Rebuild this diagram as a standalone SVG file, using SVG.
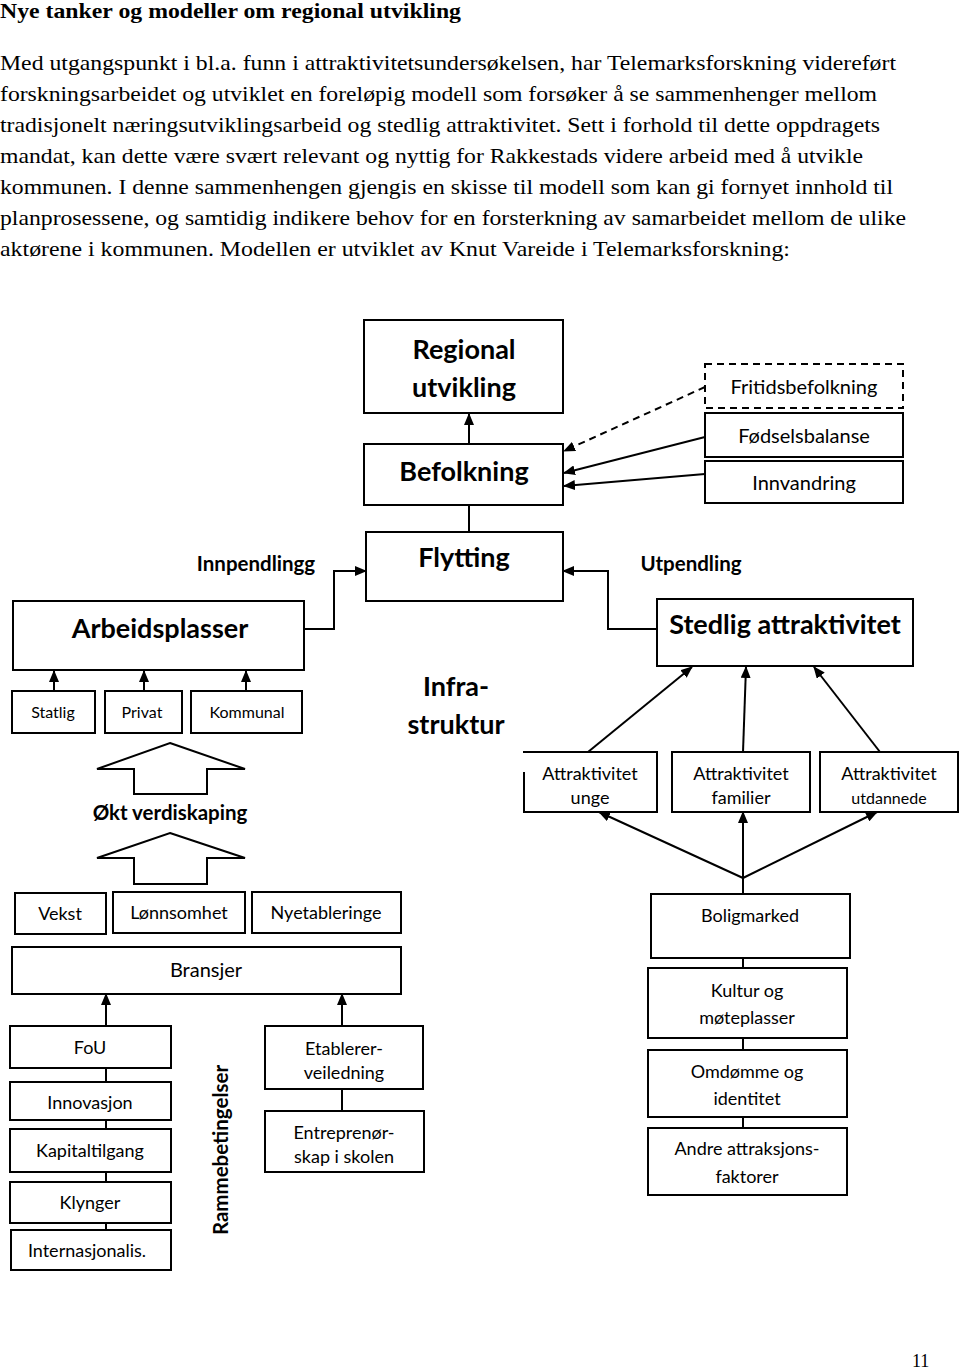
<svg xmlns="http://www.w3.org/2000/svg" width="960" height="1370" viewBox="0 0 960 1370">
<style>
.body{font-family:"Liberation Serif","Times New Roman",serif;font-size:22px;fill:#000}
.title{font-family:"Liberation Serif","Times New Roman",serif;font-size:21px;font-weight:bold;fill:#000}
.box{fill:#fff;stroke:#000;stroke-width:2}
.dbox{fill:#fff;stroke:#000;stroke-width:2;stroke-dasharray:7,5}
.t{font-family:Lato,"Open Sans",sans-serif;fill:#000;text-anchor:middle;dominant-baseline:central}
.big{font-size:27px;font-weight:bold}
.med{font-size:20.5px;font-weight:bold}
.s20{font-size:20px}
.s18{font-size:18px}
.s16{font-size:16px}
.c{fill:none;stroke:#000;stroke-width:2}
.blk{fill:#fff;stroke:#000;stroke-width:2;stroke-linejoin:miter}
</style>
<defs>
<marker id="ah" viewBox="0 0 12 10" refX="11" refY="5" markerWidth="6" markerHeight="5" orient="auto" markerUnits="strokeWidth">
<path d="M0,0 L12,5 L0,10 z" fill="#000"/>
</marker>
</defs>

<text class="title" x="0" y="18" textLength="461" lengthAdjust="spacingAndGlyphs">Nye tanker og modeller om regional utvikling</text>
<g id="paragraph">
<text class="body" x="0" y="70" textLength="896" lengthAdjust="spacingAndGlyphs">Med utgangspunkt i bl.a. funn i attraktivitetsundersøkelsen, har Telemarksforskning videreført</text>
<text class="body" x="0" y="101" textLength="877" lengthAdjust="spacingAndGlyphs">forskningsarbeidet og utviklet en foreløpig modell som forsøker å se sammenhenger mellom</text>
<text class="body" x="0" y="132" textLength="880" lengthAdjust="spacingAndGlyphs">tradisjonelt næringsutviklingsarbeid og stedlig attraktivitet. Sett i forhold til dette oppdragets</text>
<text class="body" x="0" y="163" textLength="863" lengthAdjust="spacingAndGlyphs">mandat, kan dette være svært relevant og nyttig for Rakkestads videre arbeid med å utvikle</text>
<text class="body" x="0" y="194" textLength="893" lengthAdjust="spacingAndGlyphs">kommunen. I denne sammenhengen gjengis en skisse til modell som kan gi fornyet innhold til</text>
<text class="body" x="0" y="225" textLength="906" lengthAdjust="spacingAndGlyphs">planprosessene, og samtidig indikere behov for en forsterkning av samarbeidet mellom de ulike</text>
<text class="body" x="0" y="256" textLength="790" lengthAdjust="spacingAndGlyphs">aktørene i kommunen. Modellen er utviklet av Knut Vareide i Telemarksforskning:</text>
</g>

<g id="connectors">
<line class="c" x1="469" y1="444" x2="469" y2="414" marker-end="url(#ah)"/>
<line class="c" x1="469" y1="505" x2="469" y2="532"/>
<line class="c" x1="705" y1="387" x2="564" y2="451" stroke-dasharray="7,5" marker-end="url(#ah)"/>
<line class="c" x1="705" y1="437" x2="564" y2="473" marker-end="url(#ah)"/>
<line class="c" x1="705" y1="474" x2="564" y2="486" marker-end="url(#ah)"/>
<polyline class="c" points="304,629 334,629 334,571 366,571" marker-end="url(#ah)"/>
<polyline class="c" points="656,629 608,629 608,571 563,571" marker-end="url(#ah)"/>
<line class="c" x1="54" y1="691" x2="54" y2="671" marker-end="url(#ah)"/>
<line class="c" x1="144" y1="691" x2="144" y2="671" marker-end="url(#ah)"/>
<line class="c" x1="246" y1="691" x2="246" y2="671" marker-end="url(#ah)"/>
<line class="c" x1="588" y1="752" x2="692" y2="667" marker-end="url(#ah)"/>
<line class="c" x1="743" y1="752" x2="746" y2="667" marker-end="url(#ah)"/>
<line class="c" x1="880" y1="752" x2="814" y2="667" marker-end="url(#ah)"/>
<line class="c" x1="743" y1="878" x2="599" y2="812" marker-end="url(#ah)"/>
<line class="c" x1="743" y1="878" x2="743" y2="812" marker-end="url(#ah)"/>
<line class="c" x1="743" y1="878" x2="877" y2="812" marker-end="url(#ah)"/>
<line class="c" x1="743" y1="877" x2="743" y2="894"/>
<line class="c" x1="743" y1="958" x2="743" y2="968"/>
<line class="c" x1="743" y1="1038" x2="743" y2="1050"/>
<line class="c" x1="743" y1="1117" x2="743" y2="1128"/>
<line class="c" x1="106" y1="1026" x2="106" y2="994" marker-end="url(#ah)"/>
<line class="c" x1="342" y1="1026" x2="342" y2="994" marker-end="url(#ah)"/>
<line class="c" x1="106" y1="1068" x2="106" y2="1082"/>
<line class="c" x1="106" y1="1120" x2="106" y2="1129"/>
<line class="c" x1="106" y1="1172" x2="106" y2="1182"/>
<line class="c" x1="106" y1="1223" x2="106" y2="1230"/>
<line class="c" x1="342" y1="1089" x2="342" y2="1111"/>
</g>

<g id="regional"><rect class="box" x="364" y="320" width="199" height="93"/>
<text class="t big" x="464" y="348">Regional</text><text class="t big" x="464" y="386">utvikling</text></g>
<g id="befolkning"><rect class="box" x="364" y="444" width="199" height="61"/>
<text class="t big" x="464" y="470">Befolkning</text></g>
<g id="fritid"><rect class="dbox" x="705" y="364" width="198" height="44"/>
<text class="t s20" x="804" y="386">Fritidsbefolkning</text></g>
<g id="fodsel"><rect class="box" x="705" y="413" width="198" height="44"/>
<text class="t s20" x="804" y="435">Fødselsbalanse</text></g>
<g id="innvandring"><rect class="box" x="705" y="461" width="198" height="42"/>
<text class="t s20" x="804" y="482">Innvandring</text></g>

<g id="flytting"><rect class="box" x="366" y="532" width="197" height="69"/>
<text class="t big" x="464" y="556">Flytting</text></g>
<g id="innpendling"><text class="t med" x="256" y="563">Innpendlingg</text></g>
<g id="utpendling"><text class="t med" x="691" y="563">Utpendling</text></g>

<g id="arbeidsplasser"><rect class="box" x="13" y="601" width="291" height="69"/>
<text class="t big" x="160" y="627">Arbeidsplasser</text></g>
<g id="stedlig"><rect class="box" x="657" y="599" width="256" height="67"/>
<text class="t big" x="785" y="623">Stedlig attraktivitet</text></g>
<g id="statlig"><rect class="box" x="12" y="691" width="83" height="42"/>
<text class="t s16" x="53" y="711">Statlig</text></g>
<g id="privat"><rect class="box" x="105" y="691" width="77" height="42"/>
<text class="t s16" x="142" y="711">Privat</text></g>
<g id="kommunal"><rect class="box" x="191" y="691" width="111" height="42"/>
<text class="t s16" x="247" y="711">Kommunal</text></g>
<g id="infrastruktur"><text class="t big" x="456" y="685">Infra-</text><text class="t big" x="456" y="723">struktur</text></g>

<g id="att-unge"><path class="box" d="M524,772 V812 H657 V752 H523"/>
<text class="t s18" x="590" y="773">Attraktivitet</text><text class="t s18" x="590" y="797">unge</text></g>
<g id="att-familier"><rect class="box" x="672" y="752" width="138" height="60"/>
<text class="t s18" x="741" y="773">Attraktivitet</text><text class="t s18" x="741" y="797">familier</text></g>
<g id="att-utdannede"><rect class="box" x="820" y="752" width="138" height="60"/>
<text class="t s18" x="889" y="773">Attraktivitet</text><text class="t s16" x="889" y="797">utdannede</text></g>

<g id="okt-verdiskaping">
<polygon class="blk" points="170,743 245,769 207,769 207,794 134,794 134,769 97,769"/>
<text class="t med" x="170" y="812">Økt verdiskaping</text>
<polygon class="blk" points="170,833 245,858 207,858 207,884 134,884 134,858 97,858"/>
</g>

<g id="vekst"><rect class="box" x="15" y="893" width="91" height="41"/>
<text class="t s18" x="60" y="913">Vekst</text></g>
<g id="lonnsomhet"><rect class="box" x="113" y="892" width="132" height="41"/>
<text class="t s18" x="179" y="912">Lønnsomhet</text></g>
<g id="nyetableringe"><rect class="box" x="252" y="892" width="149" height="41"/>
<text class="t s18" x="326" y="912">Nyetableringe</text></g>
<g id="bransjer"><rect class="box" x="12" y="947" width="389" height="47"/>
<text class="t s20" x="206" y="969">Bransjer</text></g>

<g id="fou"><rect class="box" x="10" y="1026" width="161" height="42"/>
<text class="t s18" x="90" y="1047">FoU</text></g>
<g id="innovasjon"><rect class="box" x="10" y="1082" width="161" height="38"/>
<text class="t s18" x="90" y="1102">Innovasjon</text></g>
<g id="kapitaltilgang"><rect class="box" x="10" y="1129" width="161" height="43"/>
<text class="t s18" x="90" y="1150">Kapitaltilgang</text></g>
<g id="klynger"><rect class="box" x="10" y="1182" width="161" height="41"/>
<text class="t s18" x="90" y="1202">Klynger</text></g>
<g id="internasjonalis"><rect class="box" x="11" y="1230" width="160" height="40"/>
<text class="t s18" x="87" y="1250">Internasjonalis.</text></g>

<g id="rammebetingelser"><text class="t med" transform="translate(220,1150) rotate(-90)" x="0" y="0">Rammebetingelser</text></g>

<g id="etablerer"><rect class="box" x="265" y="1026" width="158" height="63"/>
<text class="t s18" x="344" y="1048">Etablerer-</text><text class="t s18" x="344" y="1072">veiledning</text></g>
<g id="entreprenor"><rect class="box" x="265" y="1111" width="159" height="61"/>
<text class="t s18" x="344" y="1132">Entreprenør-</text><text class="t s18" x="344" y="1156">skap i skolen</text></g>

<g id="boligmarked"><rect class="box" x="651" y="894" width="199" height="64"/>
<text class="t s18" x="750" y="915">Boligmarked</text></g>
<g id="kultur"><rect class="box" x="648" y="968" width="199" height="70"/>
<text class="t s18" x="747" y="990">Kultur og</text><text class="t s18" x="747" y="1017">møteplasser</text></g>
<g id="omdomme"><rect class="box" x="648" y="1050" width="199" height="67"/>
<text class="t s18" x="747" y="1071">Omdømme og</text><text class="t s18" x="747" y="1098">identitet</text></g>
<g id="andre"><rect class="box" x="648" y="1128" width="199" height="67"/>
<text class="t s18" x="747" y="1148">Andre attraksjons-</text><text class="t s18" x="747" y="1176">faktorer</text></g>

<text x="912" y="1367" style="font-family:'Liberation Serif',serif;font-size:18px;fill:#000">11</text>
</svg>
